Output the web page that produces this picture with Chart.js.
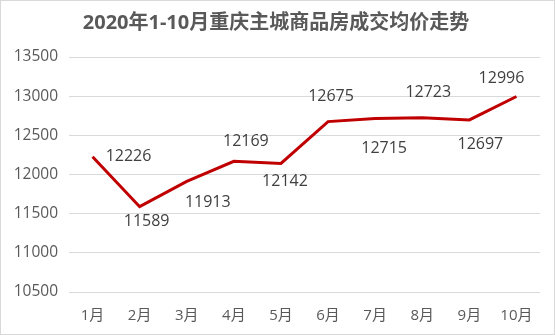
<html>
<head>
    <title>2020年1-10月重庆主城商品房成交均价走势</title>
    <script src="https://cdn.jsdelivr.net/npm/chart.js"></script>
    <style>
        body { margin: 0; background: white; }
        .wrap { position: relative; width: 555px; height: 335px; }
    </style>
</head>
<body>
    <div class="wrap"><canvas id="lineChart" width="555" height="335"></canvas></div>

    <script>
        var months = ["1月", "2月", "3月", "4月", "5月", "6月", "7月", "8月", "9月", "10月"];
        var avgPrice = [12226, 11589, 11913, 12169, 12142, 12675, 12715, 12723, 12697, 12996];
        var yTicks = [10500, 11000, 11500, 12000, 12500, 13000, 13500];

        // where each value label sits relative to its point (px)
        var labelOffsets = [[36, 0], [7, 15], [21, 21], [12, -20], [4, 18], [3, -25], [9, 30], [6, -25], [11, 25], [-15, -18]];

        var fontFamily = "'Open Sans', 'Noto Sans CJK SC', sans-serif";

        var frame = {
            id: "frame",
            afterDraw: function (chart) {
                var ctx = chart.ctx;
                ctx.save();
                ctx.strokeStyle = "#d9d9d9";
                ctx.lineWidth = 1;
                ctx.strokeRect(0.5, 0.5, chart.width - 1, chart.height - 1);
                ctx.restore();
            }
        };

        var valueLabels = {
            id: "valueLabels",
            afterDatasetsDraw: function (chart) {
                var ctx = chart.ctx;
                var meta = chart.getDatasetMeta(0);
                ctx.save();
                ctx.font = "16px " + fontFamily;
                ctx.fillStyle = "#404040";
                ctx.textAlign = "center";
                ctx.textBaseline = "middle";
                meta.data.forEach(function (pt, i) {
                    var off = labelOffsets[i];
                    ctx.fillText(avgPrice[i], pt.x + off[0], pt.y + off[1]);
                });
                ctx.restore();
            }
        };

        new Chart(document.getElementById("lineChart"), {
            type: "line",
            data: {
                labels: months,
                datasets: [{
                    data: avgPrice,
                    borderColor: "#c00000",
                    borderWidth: 3,
                    pointRadius: 0,
                    tension: 0,
                    fill: false
                }]
            },
            options: {
                responsive: false,
                animation: false,
                layout: { padding: { left: 12, right: 15, bottom: 10, top: 0 } },
                plugins: {
                    legend: { display: false },
                    tooltip: { enabled: false },
                    title: {
                        display: true,
                        text: "2020年1-10月重庆主城商品房成交均价走势",
                        color: "#595959",
                        font: { family: fontFamily, size: 20, weight: "bold" },
                        padding: { top: 11, bottom: 22 }
                    }
                },
                scales: {
                    x: {
                        offset: true,
                        afterFit: function (scale) { scale.height = 33; },
                        grid: { display: false, drawTicks: false },
                        border: { display: false },
                        ticks: { color: "#595959", font: { family: fontFamily, size: 15 }, padding: 15 }
                    },
                    y: {
                        min: 10500,
                        max: 13500,
                        afterBuildTicks: function (scale) {
                            scale.ticks = yTicks.map(function (v) { return { value: v }; });
                        },
                        afterFit: function (scale) { scale.width = 57; },
                        grid: { color: "#d9d9d9", lineWidth: 1, drawTicks: false },
                        border: { display: false },
                        ticks: {
                            color: "#595959",
                            font: { family: fontFamily, size: 15.5 },
                            padding: 11,
                            callback: function (v) { return String(v); }
                        }
                    }
                }
            },
            plugins: [frame, valueLabels]
        });
    </script>
</body>
</html>
